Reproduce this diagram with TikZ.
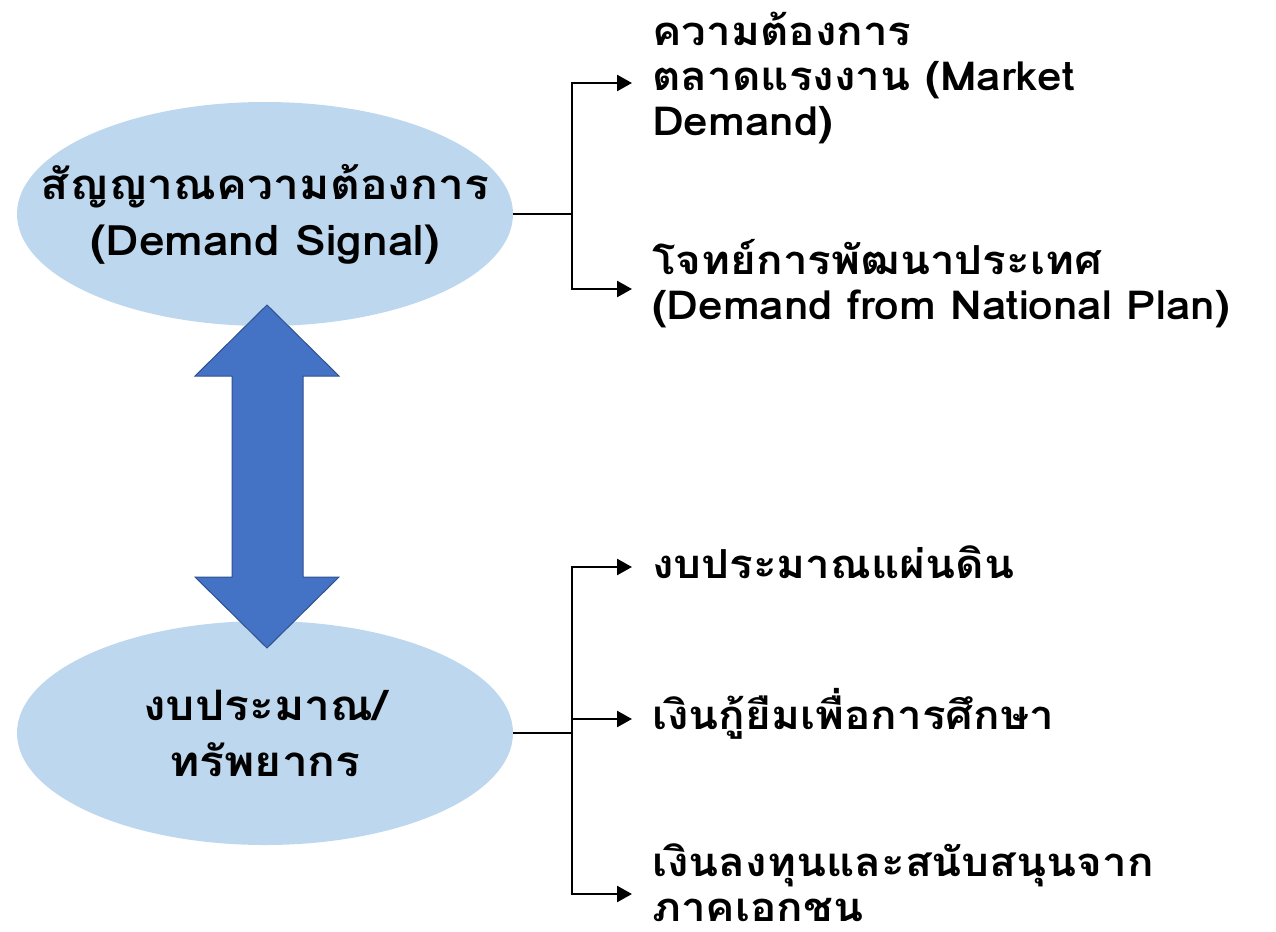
\documentclass[tikz,border=0pt]{standalone}
\usepackage{fontspec}
\setmainfont[Script=Thai, FakeStretch=1.1]{Loma}
\usetikzlibrary{shapes.geometric,arrows.meta}

\definecolor{ovalblue}{HTML}{BDD7EE}
\definecolor{arrowblue}{HTML}{4472C4}
\definecolor{arrowedge}{HTML}{2F528F}

\tikzset{
  oval/.style={ellipse, fill=ovalblue, minimum width=496pt, minimum height=224pt,
    inner sep=0pt},
  ovaltext/.style={align=center, inner sep=0pt,
    font=\fontsize{42}{56}\bfseries\selectfont},
  item/.style={anchor=west, align=left, inner xsep=20pt, inner ysep=0pt,
    font=\fontsize{40}{45}\bfseries\selectfont},
  trunk/.style={line width=2.5pt},
  branch/.style={line width=2.5pt, -{Triangle[length=15pt,width=16pt]}},
}

\begin{document}
\begin{tikzpicture}[x=1pt,y=-1pt]
  \useasboundingbox (0,0) rectangle (1276,931);

  % Ovals
  \node[oval] (signal) at (265,214) {};
  \node[ovaltext] (signaltext) at (signal) {สัญญาณความต้องการ\\(Demand Signal)};
  \node[oval] (budget) at (265,733) {};
  \node[ovaltext] (budgettext) at (budget) {งบประมาณ/\\ทรัพยากร};

  % Double arrow between the ovals
  \draw[arrowedge, fill=arrowblue, line width=1pt, line join=miter]
    (267,305) -- (339,376) -- (303,376) -- (303,577) -- (339,577)
    -- (267,648) -- (195,577) -- (232,577) -- (232,376) -- (195,376) -- cycle;

  % Items
  \node[item] (market) at (632,78) {ความต้องการ\\ตลาดแรงงาน (Market\\Demand)};
  \node[item] (nation) at (632,284) {โจทย์การพัฒนาประเทศ\\(Demand from National Plan)};
  \node[item] (state)  at (632,562) {งบประมาณแผ่นดิน};
  \node[item] (loan)   at (632,714) {เงินกู้ยืมเพื่อการศึกษา};
  \node[item] (privat) at (632,883) {เงินลงทุนและสนับสนุนจาก\\ภาคเอกชน};

  % Forks
  \coordinate (sigfork) at (572,214);
  \coordinate (budfork) at (572,733);

  \draw[trunk] (signal.east) -- (sigfork);
  \draw[branch] (sigfork) |- ([yshift=-5pt]market.west);
  \draw[branch] (sigfork) |- ([yshift=-5pt]nation.west);

  \draw[trunk] (budget.east) -- (budfork);
  \draw[branch] (budfork) |- ([yshift=-5pt]state.west);
  \draw[branch] (budfork) |- ([yshift=-5pt]loan.west);
  \draw[branch] (budfork) |- ([yshift=-11pt]privat.west);
\end{tikzpicture}
\end{document}
